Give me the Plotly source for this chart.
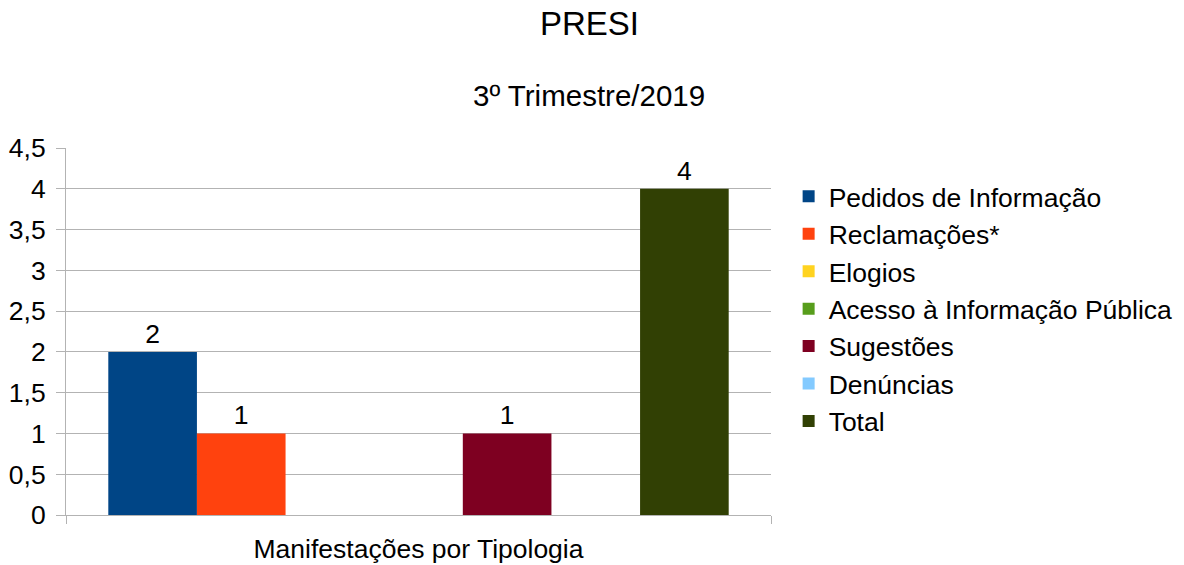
import plotly.graph_objects as go

category = ["Manifestações por Tipologia"]
series_names = ["Pedidos de Informação", "Reclamações*", "Elogios",
                "Acesso à Informação Pública", "Sugestões", "Denúncias", "Total"]
series_values = [2, 1, 0, 0, 1, 0, 4]
series_colors = ["#004586", "#ff420e", "#ffd320", "#579d1c", "#7e0021", "#83caff", "#314004"]
y_ticks = [0, 0.5, 1, 1.5, 2, 2.5, 3, 3.5, 4, 4.5]

FONT = "Liberation Sans"
FS = 26.5

fig = go.Figure()
for name, val, col in zip(series_names, series_values, series_colors):
    fig.add_trace(go.Bar(
        x=category, y=[val], name=name,
        marker=dict(color=col, line=dict(width=0)),
        text=[str(val) if val else ""],
        textposition="outside",
        textfont=dict(family=FONT, size=FS, color="black"),
        cliponaxis=False,
    ))

fig.update_layout(
    width=1184, height=565,
    barmode="group", bargap=0.12, bargroupgap=0,
    separators=",.",
    paper_bgcolor="white", plot_bgcolor="white",
    font=dict(family=FONT, size=FS, color="black"),
    margin=dict(l=66, r=413, t=148, b=50, autoexpand=False),
    showlegend=True,
    legend=dict(
        x=1.025, xanchor="left", y=0.933, yanchor="top",
        font=dict(family=FONT, size=FS, color="black"),
        bgcolor="rgba(0,0,0,0)", tracegroupgap=0,
    ),
    xaxis=dict(
        showgrid=False, showline=True, linecolor="#b3b3b3", linewidth=1,
        ticks="outside", tickson="boundaries", ticklen=8, tickcolor="#b3b3b3",
        tickfont=dict(family=FONT, size=FS, color="black"),
        ticklabelstandoff=10, automargin=False,
        range=[-0.5, 0.5],
    ),
    yaxis=dict(
        range=[0, 4.5], tickvals=y_ticks,
        showgrid=True, gridcolor="#b3b3b3", gridwidth=1,
        showline=True, linecolor="#b3b3b3", linewidth=1,
        ticks="outside", ticklen=9, tickcolor="#b3b3b3",
        tickfont=dict(family=FONT, size=FS, color="black"),
        ticklabelstandoff=5, automargin=False,
        zeroline=False,
    ),
    annotations=[
        dict(text="PRESI", xref="paper", yref="paper", x=0.742, y=1.338,
             xanchor="center", yanchor="middle", showarrow=False,
             font=dict(family=FONT, size=33, color="black")),
        dict(text="3º Trimestre/2019", xref="paper", yref="paper", x=0.742, y=1.1417,
             xanchor="center", yanchor="middle", showarrow=False,
             font=dict(family=FONT, size=29.5, color="black")),
    ],
)

fig.write_html(
    "out.html",
    config={"displayModeBar": False},
    post_script="document.body.style.margin='0';document.body.style.overflow='hidden';",
)
